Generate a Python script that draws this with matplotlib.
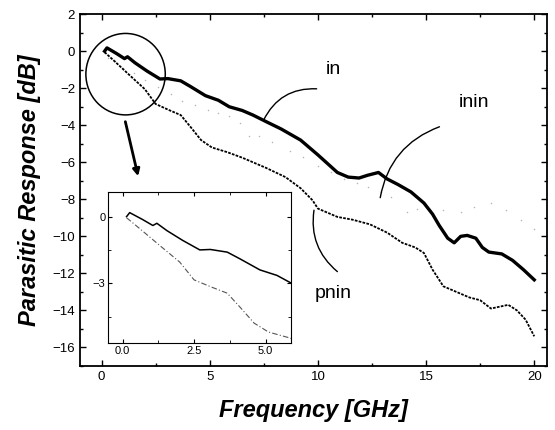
import matplotlib.pyplot as plt
from matplotlib.patches import Ellipse

plt.rcParams['font.family'] = ['Liberation Sans', 'DejaVu Sans']

# "in" curve (thick)
in_freq = [0.14, 0.25, 0.7, 1.06, 1.2, 1.55, 2.1, 2.7, 3.07, 3.66, 4.1, 4.8, 5.4, 5.9,
           6.5, 7.0, 7.6, 8.3, 9.2, 10.0, 10.9, 11.4, 11.9, 12.3, 12.8, 13.2, 13.7,
           14.3, 14.9, 15.3, 15.6, 16.0, 16.3, 16.6, 16.9, 17.3, 17.6, 17.9, 18.5,
           19.0, 19.5, 20.0]
in_resp = [0.0, 0.18, -0.13, -0.4, -0.3, -0.63, -1.07, -1.5, -1.48, -1.6, -1.9, -2.4,
           -2.65, -3.0, -3.2, -3.45, -3.8, -4.2, -4.8, -5.6, -6.55, -6.8, -6.85, -6.7,
           -6.55, -6.9, -7.2, -7.6, -8.2, -8.8, -9.4, -10.1, -10.35, -10.0, -9.95,
           -10.1, -10.6, -10.85, -10.95, -11.3, -11.8, -12.35]

# "pnin" curve (thin dotted)
pnin_freq = [0.14, 0.6, 1.3, 2.0, 2.5, 3.1, 3.66, 4.12, 4.6, 5.1, 5.8, 6.5, 7.6, 8.5,
             9.2, 9.75, 10.0, 10.9, 11.6, 12.4, 13.2, 13.9, 14.5, 14.9, 15.3, 15.8,
             16.4, 17.0, 17.5, 18.0, 18.4, 18.8, 19.2, 19.6, 20.0]
pnin_resp = [-0.05, -0.54, -1.3, -2.05, -2.85, -3.17, -3.45, -4.1, -4.8, -5.2, -5.45,
             -5.75, -6.3, -6.8, -7.4, -8.05, -8.5, -8.95, -9.1, -9.35, -9.8, -10.35,
             -10.6, -10.9, -11.8, -12.7, -13.0, -13.3, -13.45, -13.9, -13.8, -13.7,
             -14.0, -14.5, -15.4]

# "inin" curve (faint grey dots)
inin_freq = [0.3, 0.6, 1.0, 1.5, 2.0, 2.6, 3.2, 3.7, 4.3, 4.9, 5.4, 5.9, 6.4, 6.8, 7.3,
             7.9, 8.7, 9.3, 10.0, 10.6, 11.2, 11.8, 12.3, 12.9, 13.4, 14.1, 14.6, 15.2,
             15.8, 16.6, 17.2, 18.0, 18.7, 19.4, 20.0]
inin_resp = [-0.35, -0.55, -0.9, -1.2, -1.55, -1.95, -2.3, -2.7, -2.9, -3.2, -3.35, -3.5,
             -3.9, -4.6, -4.6, -4.9, -5.4, -5.7, -6.2, -6.5, -6.9, -7.1, -7.35, -7.6,
             -7.9, -8.7, -8.5, -8.6, -8.6, -8.7, -8.4, -8.2, -8.6, -9.1, -9.6]

fig = plt.figure(figsize=(5.55, 4.30), dpi=100)
ax = fig.add_axes([0.144, 0.149, 0.842, 0.818])

ax.scatter(inin_freq, inin_resp, s=1.2, color='#b5b5b5', zorder=2, linewidths=0)
ax.plot(pnin_freq, pnin_resp, color='black', lw=1.3, ls=(0, (1.5, 0.7)), zorder=3)
ax.plot(in_freq, in_resp, color='black', lw=2.4, zorder=4)

ax.set_xlim(-1, 20.6)
ax.set_ylim(-17, 2)
ax.set_xticks([0, 5, 10, 15, 20])
ax.set_xticks([2.5, 7.5, 12.5, 17.5], minor=True)
ax.set_yticks(range(-16, 3, 2))
ax.set_yticks(range(-17, 2, 2), minor=True)
ax.tick_params(which='both', direction='in', top=True, right=True, labelsize=9.5)
ax.tick_params(which='major', length=4, width=1)
ax.tick_params(which='minor', length=2.5, width=1)
for sp in ax.spines.values():
    sp.set_linewidth(1.3)

ax.set_xlabel('Frequency [GHz]', fontsize=17, fontweight='bold', fontstyle='italic', labelpad=12)
ax.set_ylabel('Parasitic Response [dB]', fontsize=17, fontweight='bold', fontstyle='italic', labelpad=8)

# magnifier circle and arrow
ax.add_patch(Ellipse((1.11, -1.24), 3.67, 4.4, fill=False, lw=1.1, color='black', zorder=5))
ax.annotate('', xy=(1.72, -6.9), xytext=(1.07, -3.66),
            arrowprops=dict(arrowstyle='-|>', lw=2, color='black', mutation_scale=10))

# labels with leader curves
ax.text(10.72, -0.97, 'in', fontsize=14, ha='center', va='center')
ax.annotate('', xy=(10.07, -2.04), xytext=(7.43, -3.87),
            arrowprops=dict(arrowstyle='-', lw=1, color='black',
                            connectionstyle='arc3,rad=-0.35'))
ax.text(17.2, -2.75, 'inin', fontsize=14, ha='center', va='center')
ax.annotate('', xy=(15.74, -4.03), xytext=(12.86, -8.06),
            arrowprops=dict(arrowstyle='-', lw=1, color='black',
                            connectionstyle='arc3,rad=-0.3'))
ax.text(10.72, -13.1, 'pnin', fontsize=14, ha='center', va='center')
ax.annotate('', xy=(11.0, -12.0), xytext=(9.84, -8.44),
            arrowprops=dict(arrowstyle='-', lw=1, color='black',
                            connectionstyle='arc3,rad=0.3'))

# inset
ins = fig.add_axes([0.195, 0.202, 0.330, 0.351])
ins.plot(in_freq, in_resp, color='black', lw=1.1)
ins.plot(pnin_freq, pnin_resp, color='#555555', lw=0.8, ls=(0, (5, 2, 1, 2)))
ins.set_xlim(-0.5, 5.9)
ins.set_ylim(-5.7, 1.1)
ins.set_xticks([0, 2.5, 5.0])
ins.set_xticklabels(['0.0', '2.5', '5.0'])
ins.set_xticks([1.25, 3.75], minor=True)
ins.set_yticks([0, -3])
ins.set_yticks([-1.5, -4.5], minor=True)
ins.tick_params(which='both', direction='in', top=True, right=True, labelsize=8, pad=2)
ins.tick_params(which='major', length=3)
ins.tick_params(which='minor', length=2)

fig.savefig('out.png', dpi=100)
